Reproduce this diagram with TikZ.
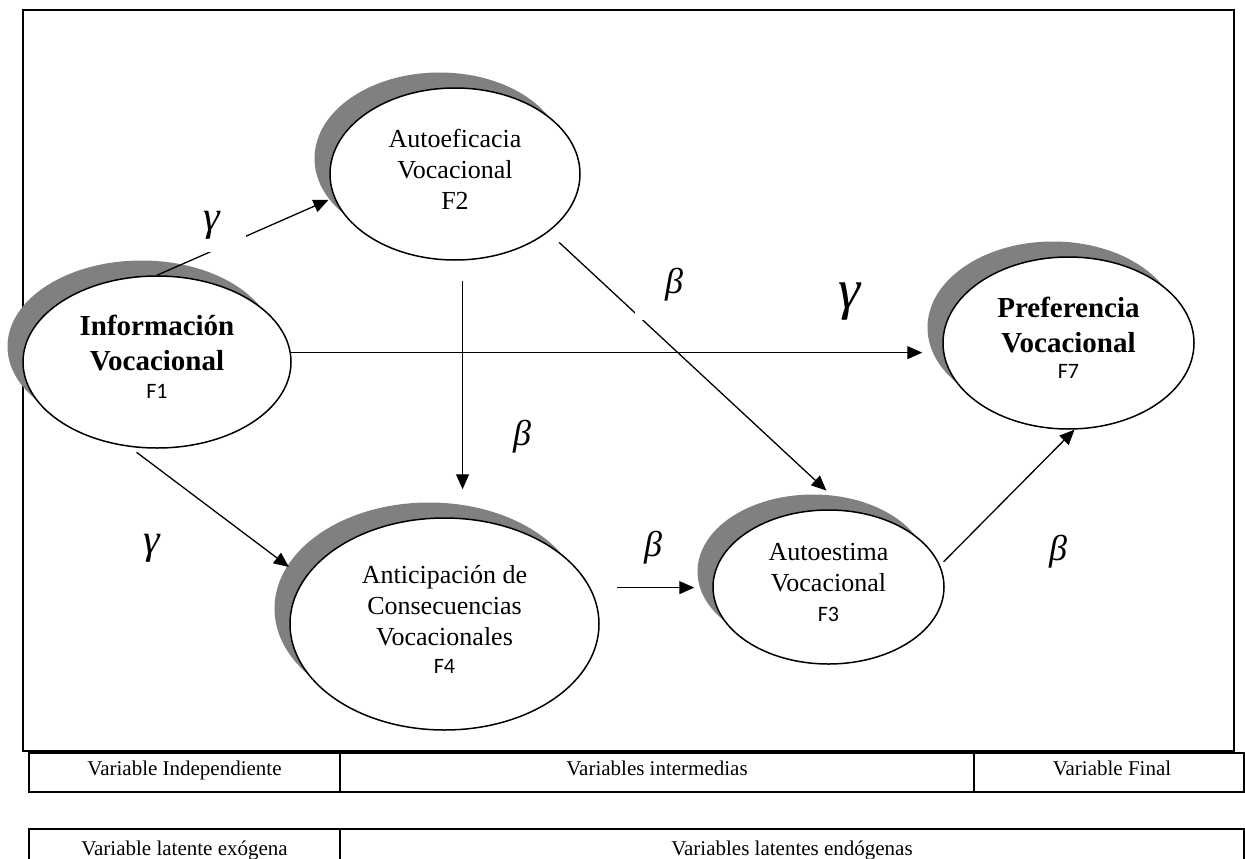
\documentclass[tikz,border=0pt]{standalone}
\usepackage{fontspec}
\setmainfont{Liberation Serif}
\newfontfamily\calib{Carlito}
\usetikzlibrary{shapes.geometric,shadows,arrows.meta}
\definecolor{shadowgray}{HTML}{808080}

\begin{document}
\begin{tikzpicture}[x=1pt,y=-1pt,>={Triangle[length=15pt,width=13pt]},
                    line width=1.3pt]
  \tikzstyle{factor}=[ellipse,draw=black,fill=white,line width=1.5pt,inner sep=0pt,align=center,
                      font=\fontsize{26}{31}\selectfont,
                      drop shadow={shadow xshift=-15.5pt,shadow yshift=15.5pt,fill=shadowgray,opacity=1}]
  \tikzstyle{keyfactor}=[factor,font=\fontsize{29}{35}\selectfont\bfseries]
  \tikzstyle{coef}=[inner sep=0pt,font=\fontsize{36}{36}\selectfont\itshape]
  \tikzstyle{mask}=[coef,fill=white]
  \tikzstyle{cell}=[inner sep=0pt,anchor=base,font=\fontsize{21}{25}\selectfont]
  \tikzstyle{tabline}=[line width=2pt]

  \useasboundingbox (0,0) rectangle (1245,859);

  % marco
  \draw[tabline] (23,10) rectangle (1234,751);

  % factores
  \node[keyfactor] (F1) [minimum width=268pt, minimum height=172pt] at (157,362)
       {Información\\Vocacional\\[-7pt]{\calib\mdseries\fontsize{22}{27}\selectfont F1}\rule[-10pt]{0pt}{10pt}};
  \node[factor]    (F2) [minimum width=250pt, minimum height=172pt] at (455,174)
       {Autoeficacia\\Vocacional\\F2\rule[-10pt]{0pt}{10pt}};
  \node[keyfactor] (F7) [minimum width=251pt, minimum height=172pt] at (1068.5,343)
       {Preferencia\\Vocacional\\[-9pt]{\calib\mdseries\fontsize{22}{27}\selectfont F7}\rule[-10pt]{0pt}{10pt}};
  \node[factor]    (F4) [minimum width=309pt, minimum height=212pt] at (444.5,624)
       {Anticipación de\\Consecuencias\\Vocacionales\\[-3pt]{\calib\fontsize{22}{27}\selectfont F4}\rule[-10pt]{0pt}{10pt}};
  \node[factor]    (F3) [minimum width=231pt, minimum height=154pt] at (828.5,587)
       {Autoestima\\Vocacional\\[-1pt]{\calib\fontsize{22}{27}\selectfont F3}\rule[-10pt]{0pt}{10pt}};

  % relaciones
  \path[->] (F1.north) edge [shorten >=6pt] (F2.191)
            (F1.4)     edge [shorten >=20pt] (F1.4 -| F7.west)
            (F1.252)   edge [shorten <=9pt, shorten >=19pt] (F4.162)
            (F2.-85)   edge [shorten <=20pt, shorten >=28pt] (F2.-85 |- F4.north)
            (F2.-32)   edge [shorten <=15pt, shorten >=29pt] (F3.76)
            (F4.14)    edge [shorten <=27pt, shorten >=18pt] (F4.14 -| F3.west)
            (F3.11)    edge [shorten <=5pt] (F7.274);

  % coeficientes
  \node[mask, minimum width=68pt, minimum height=54pt, font=\fontsize{42}{42}\selectfont\itshape] (g12) at (212,225) {γ};
  \node[mask, minimum width=78pt, minimum height=70pt] (b23) at (674,285) {β};
  \node[coef, font=\fontsize{56}{56}\selectfont\itshape] (g17) at (850,302) {γ};
  \node[coef] (b24) at (522,437) {β};
  \node[coef, font=\fontsize{42}{42}\selectfont\itshape] (g14) at (152,548) {γ};
  \node[coef] (b43) at (653,548) {β};
  \node[coef] (b37) at (1058,552) {β};

  % tablas
  \draw[tabline] (29,753) rectangle (1244,792);
  \draw[tabline] (340,753) -- (340,792) (974,753) -- (974,792);
  \draw[tabline] (29,859) -- (29,829) -- (1244,829) -- (1244,859) (340,829) -- (340,859);
  \node[cell] (indep)  at (184.5,775) {Variable Independiente};
  \node[cell] (inter)  at (657,775)   {Variables intermedias};
  \node[cell] (final)  at (1112,775)  {Variable Final};
  \node[cell] (exog)   at (184.5,855) {Variable latente exógena};
  \node[cell] (endog)  at (792,855)   {Variables latentes endógenas};
\end{tikzpicture}
\end{document}
